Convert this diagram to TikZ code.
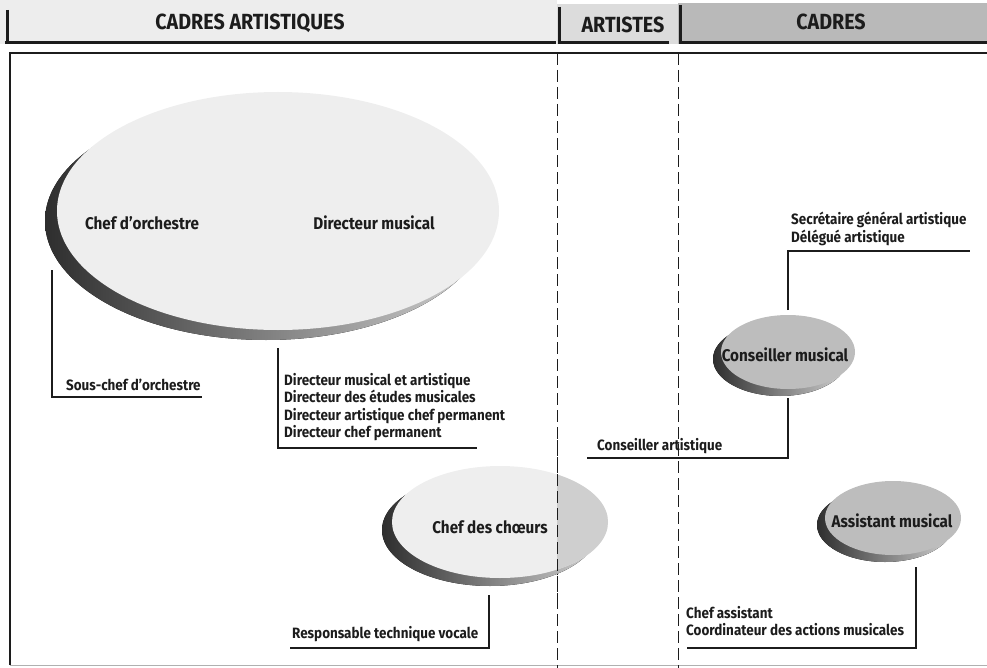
\documentclass[tikz,border=0pt]{standalone}
\usepackage{fontspec}
\setmainfont{Fira Sans}[FakeStretch=0.9]
\usetikzlibrary{shapes.geometric}

\definecolor{ink}{HTML}{1C1C1C}
\definecolor{tabA}{HTML}{EDEDED}
\definecolor{tabB}{HTML}{DCDCDC}
\definecolor{tabC}{HTML}{B9B9B9}
\definecolor{litA}{HTML}{EEEEEE}
\definecolor{litB}{HTML}{CFCFCF}
\definecolor{litC}{HTML}{BDBDBD}
\definecolor{shdark}{HTML}{2E2E2E}
\definecolor{shlight}{HTML}{D2D2D2}

\tikzset{
  tabrule/.style={draw=ink, line width=3bp},
  frame/.style={draw=ink, line width=1.2bp},
  colsep/.style={draw=ink, line width=1bp, dash pattern=on 12bp off 5bp},
  link/.style={draw=ink, line width=1.1bp},
  hdr/.style={font=\bfseries\fontsize{22}{24}\selectfont, text=ink, inner sep=0},
  roletext/.style={font=\bfseries\fontsize{17}{20}\selectfont, text=ink, inner sep=0},
  listtext/.style={font=\bfseries\fontsize{15}{17.3}\selectfont, text=ink, inner sep=0, align=left, anchor=west},
  bubble/.style={ellipse, inner sep=0},
}

\begin{document}
\begin{tikzpicture}[x=1bp, y=-1bp]
\useasboundingbox (0,0) rectangle (987,668);

% header tabs
\fill[tabA] (0,0) rectangle (557,44);
\fill[tabB] (557,4) rectangle (678,44);
\fill[tabC] (678,3) rectangle (987,44);
\draw[tabrule] (7,10) -- (7,44);
\draw[tabrule] (5,42.5) -- (556,42.5);
\draw[tabrule] (559.5,7) -- (559.5,44);
\draw[tabrule] (559,42.5) -- (669,42.5);
\draw[tabrule] (680,5) -- (680,44);
\draw[tabrule] (679,42.5) -- (987,42.5);
\node[hdr] (hA) at (250,23) {CADRES ARTISTIQUES};
\node[hdr] (hB) at (623,25) {ARTISTES};
\node[hdr] (hC) at (831,22) {CADRES};

% outer frame and column separators
\draw[frame] (10,665) -- (10,53) -- (987,53);
\draw[draw=ink!35, line width=0.8bp] (10,665.5) -- (987,665.5);
\draw[colsep] (557,53) -- (557,668);
\draw[colsep] (678,53) -- (678,668);

% large bubble: chef d'orchestre / directeur musical
\fill[left color=shdark, right color=shlight] (266,221) ellipse [x radius=221, y radius=119];
\node[bubble, fill=litA, minimum width=442bp, minimum height=238bp] (big) at (278,211) {};
\node[roletext] (chef) at (142,223) {Chef d'orchestre};
\node[roletext] (dirm) at (374,223) {Directeur musical};

% chef des choeurs bubble, darker beyond the column rule
\fill[left color=shdark, right color=shlight] (490,530) ellipse [x radius=108, y radius=56];
\fill[litA] (500,522) ellipse [x radius=108, y radius=56];
\begin{scope}
  \clip (557,440) rectangle (640,600);
  \fill[litB] (500,522) ellipse [x radius=108, y radius=56];
\end{scope}
\draw[colsep] (557,440) -- (557,600);
\node[bubble, minimum width=216bp, minimum height=112bp] (choeur) at (500,522) {};
\node[roletext] (choeurt) at (490,527) {Chef des chœurs};

% conseiller musical bubble
\fill[left color=shdark, right color=shlight] (780,359) ellipse [x radius=67, y radius=37];
\node[bubble, fill=litC, minimum width=134bp, minimum height=74bp] (cons) at (788,352) {};
\node[roletext] (const) at (785,355) {Conseiller musical};

% assistant musical bubble
\fill[left color=shdark, right color=shlight] (885,525) ellipse [x radius=68, y radius=37];
\node[bubble, fill=litC, minimum width=136bp, minimum height=74bp] (assi) at (893,518) {};
\node[roletext] (assit) at (892,521) {Assistant musical};

% title lists
\node[listtext] (sous) at (66,385) {Sous-chef d'orchestre};
\node[listtext] (dirl) at (284,407) {Directeur musical et artistique\\Directeur des études musicales\\Directeur artistique chef permanent\\Directeur chef permanent};
\node[listtext] (resp) at (292,634) {Responsable technique vocale};
\node[listtext] (secr) at (791,229) {Secrétaire général artistique\\Délégué artistique};
\node[listtext] (consa) at (597,446) {Conseiller artistique};
\node[listtext] (chefa) at (686,621) {Chef assistant\\Coordinateur des actions musicales};

% connectors
\coordinate (sousA) at (52,270);   \coordinate (sousB) at (202,397);
\coordinate (dirA) at (278,348);   \coordinate (dirB) at (477,448);
\coordinate (respA) at (489,595);  \coordinate (respB) at (290,648);
\coordinate (secrA) at (788,310);  \coordinate (secrB) at (970,251);
\coordinate (consA) at (788,398);  \coordinate (consB) at (587,458);
\coordinate (chefA) at (916,567);  \coordinate (chefB) at (687,648);
\draw[link] (sousA) |- (sousB);
\draw[link] (dirA) |- (dirB);
\draw[link] (respA) |- (respB);
\draw[link] (secrA) |- (secrB);
\draw[link] (consA) |- (consB);
\draw[link] (chefA) |- (chefB);
\end{tikzpicture}
\end{document}
